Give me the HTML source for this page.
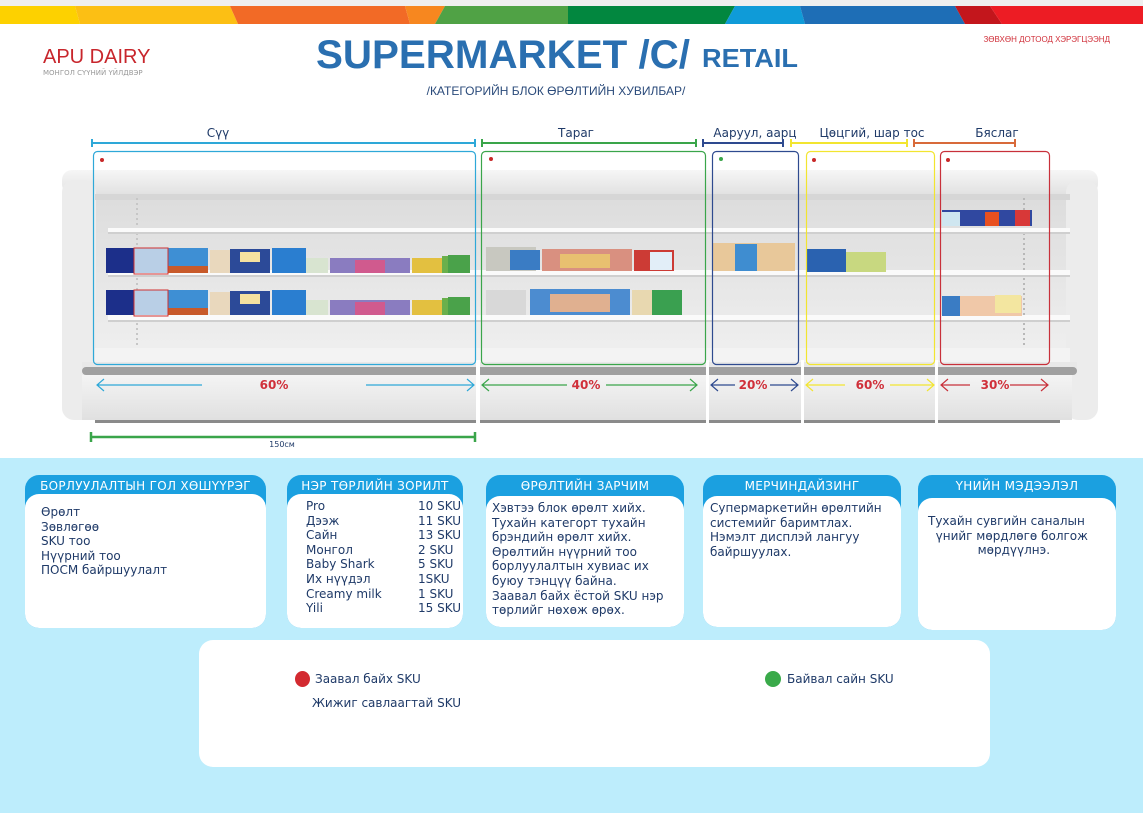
<!DOCTYPE html>
<html><head><meta charset="utf-8">
<style>
*{margin:0;padding:0;box-sizing:border-box}
body{width:1143px;height:813px;overflow:hidden;background:#fff;font-family:"Liberation Sans","DejaVu Sans",sans-serif;position:relative}
.abs{position:absolute}
.bg{position:absolute;left:0;top:458px;width:1143px;height:355px;background:#bdedfc}
.pan{position:absolute;background:#1ba0e0;border-radius:14px}
.pan .hd{color:#fff;font-family:"DejaVu Sans",sans-serif;font-size:12px;text-align:center;height:22px;line-height:22px;letter-spacing:0.3px}
.pan .bd{position:absolute;left:0;right:0;bottom:0;background:#fff;border-radius:14px;color:#1f3a68;font-family:"DejaVu Sans",sans-serif;font-size:12px;line-height:14.6px}
</style></head><body>
<svg class="abs" style="left:0;top:0" width="1143" height="458" viewBox="0 0 1143 458">
<defs>
<linearGradient id="can" x1="0" y1="0" x2="0" y2="1"><stop offset="0" stop-color="#f6f6f6"/><stop offset="1" stop-color="#e2e2e2"/></linearGradient>
<linearGradient id="int" x1="0" y1="0" x2="0" y2="1"><stop offset="0" stop-color="#dcdcdc"/><stop offset="1" stop-color="#f0f0f0"/></linearGradient>
<linearGradient id="base" x1="0" y1="0" x2="0" y2="1"><stop offset="0" stop-color="#f4f4f4"/><stop offset="1" stop-color="#e0e0e0"/></linearGradient>
</defs>
<rect x="0" y="0" width="1143" height="6" fill="#efefef"/>
<polygon points="0,6 75,6 80,24 0,24" fill="#fdd100"/>
<polygon points="75,6 230,6 238,24 80,24" fill="#fcbf14"/>
<polygon points="230,6 405,6 410,24 238,24" fill="#f26a26"/>
<polygon points="405,6 445,6 435,24 410,24" fill="#f7871f"/>
<polygon points="445,6 568,6 568,24 435,24" fill="#50a245"/>
<polygon points="568,6 735,6 725,24 568,24" fill="#02873f"/>
<polygon points="735,6 800,6 805,24 725,24" fill="#0f9bd8"/>
<polygon points="800,6 955,6 965,24 805,24" fill="#1e6eb6"/>
<polygon points="955,6 990,6 1002,24 965,24" fill="#c3161c"/>
<polygon points="990,6 1143,6 1143,24 1002,24" fill="#ed1c24"/>
<text x="43" y="63" font-size="20" fill="#c8262c" font-family="Liberation Sans">APU DAIRY</text>
<text x="43" y="75" font-size="7" fill="#999" font-family="DejaVu Sans">МОНГОЛ СҮҮНИЙ ҮЙЛДВЭР</text>
<text x="316" y="68" font-size="40" font-weight="bold" fill="#2a6fb0" font-family="Liberation Sans" textLength="374" lengthAdjust="spacingAndGlyphs">SUPERMARKET /C/</text>
<text x="702" y="67" font-size="26" font-weight="bold" fill="#2a6fb0" font-family="Liberation Sans" textLength="96" lengthAdjust="spacingAndGlyphs">RETAIL</text>
<text x="556" y="95" font-size="12" fill="#2a4a7a" text-anchor="middle" font-family="Liberation Sans">/КАТЕГОРИЙН БЛОК ӨРӨЛТИЙН ХУВИЛБАР/</text>
<text x="1110" y="42" font-size="8" fill="#d0303a" text-anchor="end" font-family="Liberation Sans">ЗӨВХӨН ДОТООД ХЭРЭГЦЭЭНД</text>
<!-- fridge -->
<rect x="62" y="170" width="1036" height="24" rx="10" fill="url(#can)"/>
<rect x="95" y="194" width="975" height="168" fill="url(#int)"/>
<rect x="62" y="180" width="34" height="240" rx="12" fill="#ececec"/>
<rect x="1066" y="180" width="32" height="240" rx="12" fill="#ececec"/>
<rect x="95" y="194" width="975" height="6" fill="#d6d6d6"/>
<line x1="137" y1="198" x2="137" y2="350" stroke="#c6c6c6" stroke-width="2" stroke-dasharray="2 3"/>
<line x1="1024" y1="198" x2="1024" y2="350" stroke="#b8b8b8" stroke-width="2" stroke-dasharray="2 3"/>
<rect x="108" y="228" width="962" height="4" fill="#fafafa"/><rect x="108" y="232" width="962" height="2" fill="#cfcfcf"/>
<rect x="108" y="270" width="962" height="5" fill="#fafafa"/><rect x="108" y="275" width="962" height="2" fill="#cfcfcf"/>
<rect x="108" y="315" width="962" height="5" fill="#fafafa"/><rect x="108" y="320" width="962" height="2" fill="#cfcfcf"/>
<rect x="95" y="348" width="975" height="14" fill="#f3f3f3"/>
<rect x="82" y="362" width="995" height="6" fill="#e8e8e8"/>
<rect x="82" y="367" width="995" height="8" rx="4" fill="#a0a0a0"/>
<rect x="82" y="375" width="990" height="45" fill="url(#base)"/>
<rect x="95" y="420" width="965" height="3" fill="#8a8a8a"/>
<g>
<rect x="106" y="248" width="28" height="25" fill="#1c2f8a"/>
<rect x="134" y="248" width="34" height="25" fill="#b9cfe6"/>
<rect x="168" y="248" width="40" height="25" fill="#3e8fd4"/><rect x="168" y="266" width="40" height="7" fill="#c85a2a"/>
<rect x="210" y="250" width="20" height="23" fill="#e9d8bd"/>
<rect x="230" y="249" width="40" height="24" fill="#2c4a98"/><rect x="240" y="252" width="20" height="10" fill="#f4e1a0"/>
<rect x="272" y="248" width="34" height="25" fill="#2a7ed0"/>
<rect x="306" y="258" width="22" height="15" fill="#d8e4d0"/>
<rect x="330" y="258" width="80" height="15" fill="#8a7cc0"/><rect x="355" y="260" width="30" height="13" fill="#d05a8e"/>
<rect x="412" y="258" width="30" height="15" fill="#e3c040"/>
<rect x="442" y="256" width="12" height="17" fill="#6ab04c"/>
<rect x="448" y="255" width="22" height="18" fill="#4aa24a"/>
</g>
<g>
<rect x="106" y="290" width="28" height="25" fill="#1c2f8a"/>
<rect x="134" y="290" width="34" height="25" fill="#b9cfe6"/>
<rect x="168" y="290" width="40" height="25" fill="#3e8fd4"/><rect x="168" y="308" width="40" height="7" fill="#c85a2a"/>
<rect x="210" y="292" width="20" height="23" fill="#e9d8bd"/>
<rect x="230" y="291" width="40" height="24" fill="#2c4a98"/><rect x="240" y="294" width="20" height="10" fill="#f4e1a0"/>
<rect x="272" y="290" width="34" height="25" fill="#2a7ed0"/>
<rect x="306" y="300" width="22" height="15" fill="#d8e4d0"/>
<rect x="330" y="300" width="80" height="15" fill="#8a7cc0"/><rect x="355" y="302" width="30" height="13" fill="#d05a8e"/>
<rect x="412" y="300" width="30" height="15" fill="#e3c040"/>
<rect x="442" y="298" width="12" height="17" fill="#6ab04c"/>
<rect x="448" y="297" width="22" height="18" fill="#4aa24a"/>
</g>
<rect x="134" y="248" width="34" height="26" fill="none" stroke="#d03030" stroke-width="1"/>
<rect x="134" y="290" width="34" height="26" fill="none" stroke="#d03030" stroke-width="1"/>
<rect x="486" y="247" width="50" height="24" fill="#c8c8c0"/><rect x="510" y="250" width="30" height="20" fill="#3a7cc4"/>
<rect x="542" y="249" width="90" height="22" fill="#d99080"/><rect x="560" y="254" width="50" height="14" fill="#e8c070"/>
<rect x="634" y="250" width="40" height="21" fill="#cc3b35"/><rect x="650" y="252" width="22" height="18" fill="#e2eef8"/>
<rect x="486" y="290" width="40" height="25" fill="#d8d8d8"/>
<rect x="530" y="289" width="100" height="26" fill="#4c8cd0"/><rect x="550" y="294" width="60" height="18" fill="#e0b090"/>
<rect x="632" y="290" width="50" height="25" fill="#3aa050"/><rect x="632" y="290" width="20" height="25" fill="#e8d8b0"/>
<rect x="713" y="243" width="82" height="28" fill="#e8c89a"/><rect x="735" y="244" width="22" height="27" fill="#3f8dd0"/>
<rect x="806" y="249" width="40" height="23" fill="#2a62b0"/><rect x="846" y="252" width="40" height="20" fill="#c8d880"/>
<rect x="942" y="210" width="90" height="16" fill="#3048a0"/><rect x="942" y="212" width="18" height="14" fill="#cfe6f0"/><rect x="985" y="212" width="14" height="14" fill="#e85020"/><rect x="1015" y="210" width="15" height="16" fill="#d83838"/>
<rect x="942" y="296" width="80" height="20" fill="#f0c8a8"/><rect x="942" y="296" width="18" height="20" fill="#3a7cc4"/><rect x="995" y="295" width="26" height="18" fill="#f3e6a0"/>
<rect x="476" y="360" width="4" height="68" fill="#fff"/>
<rect x="706" y="360" width="3" height="68" fill="#fff"/>
<rect x="801" y="360" width="3" height="68" fill="#fff"/>
<rect x="935" y="360" width="3" height="68" fill="#fff"/>
<rect x="93.5" y="151.5" width="382" height="213" rx="4" fill="none" stroke="#2ea8d8" stroke-width="1.2"/>
<rect x="481.5" y="151.5" width="224" height="213" rx="4" fill="none" stroke="#3aa54a" stroke-width="1.2"/>
<rect x="712.5" y="151.5" width="86" height="213" rx="4" fill="none" stroke="#2e4a8f" stroke-width="1.2"/>
<rect x="806.5" y="151.5" width="128" height="213" rx="4" fill="none" stroke="#f2e530" stroke-width="1.2"/>
<rect x="940.5" y="151.5" width="109" height="213" rx="4" fill="none" stroke="#c8303a" stroke-width="1.2"/>
<circle cx="102" cy="160" r="2" fill="#c82828"/><circle cx="491" cy="159" r="2" fill="#c82828"/><circle cx="721" cy="159" r="2" fill="#3aa54a"/><circle cx="814" cy="160" r="2" fill="#c82828"/><circle cx="948" cy="160" r="2" fill="#c82828"/>
<g font-size="12" fill="#1f3a68" text-anchor="middle" font-family="DejaVu Sans">
<text x="218" y="137">Сүү</text><text x="576" y="137">Тараг</text><text x="755" y="137">Ааруул, аарц</text><text x="872" y="137">Цөцгий, шар тос</text><text x="997" y="137">Бяслаг</text>
</g>
<g stroke-width="2">
<line x1="92" y1="143" x2="475" y2="143" stroke="#2ea8d8"/><line x1="92" y1="139" x2="92" y2="147" stroke="#2ea8d8"/><line x1="475" y1="139" x2="475" y2="147" stroke="#2ea8d8"/>
<line x1="482" y1="143" x2="696" y2="143" stroke="#3aa54a"/><line x1="482" y1="139" x2="482" y2="147" stroke="#3aa54a"/><line x1="696" y1="139" x2="696" y2="147" stroke="#3aa54a"/>
<line x1="703" y1="143" x2="783" y2="143" stroke="#2e4a8f"/><line x1="703" y1="139" x2="703" y2="147" stroke="#2e4a8f"/><line x1="783" y1="139" x2="783" y2="147" stroke="#2e4a8f"/>
<line x1="791" y1="143" x2="907" y2="143" stroke="#f2e530"/><line x1="791" y1="139" x2="791" y2="147" stroke="#f2e530"/><line x1="907" y1="139" x2="907" y2="147" stroke="#f2e530"/>
<line x1="914" y1="143" x2="1015" y2="143" stroke="#d86a3a"/><line x1="914" y1="139" x2="914" y2="147" stroke="#d86a3a"/><line x1="1015" y1="139" x2="1015" y2="147" stroke="#d86a3a"/>
</g>
<g fill="none" stroke-width="1.2">
<path d="M97 385H202M104 379L97 385L104 391" stroke="#2ea8d8"/><path d="M366 385H474M467 379L474 385L467 391" stroke="#2ea8d8"/>
<path d="M482 385H567M489 379L482 385L489 391" stroke="#3aa54a"/><path d="M606 385H697M690 379L697 385L690 391" stroke="#3aa54a"/>
<path d="M711 385H735M718 379L711 385L718 391" stroke="#2e4a8f"/><path d="M770 385H798M791 379L798 385L791 391" stroke="#2e4a8f"/>
<path d="M806 385H845M813 379L806 385L813 391" stroke="#f2e530"/><path d="M890 385H934M927 379L934 385L927 391" stroke="#f2e530"/>
<path d="M941 385H970M948 379L941 385L948 391" stroke="#c8303a"/><path d="M1010 385H1048M1041 379L1048 385L1041 391" stroke="#c8303a"/>
</g>
<g font-size="12" font-weight="bold" fill="#d0303a" text-anchor="middle" font-family="DejaVu Sans">
<text x="274" y="389">60%</text><text x="586" y="389">40%</text><text x="753" y="389">20%</text><text x="870" y="389">60%</text><text x="995" y="389">30%</text>
</g>
<line x1="91" y1="437" x2="475" y2="437" stroke="#3aa54a" stroke-width="2.5"/><line x1="91" y1="432" x2="91" y2="442" stroke="#3aa54a" stroke-width="2.5"/><line x1="475" y1="432" x2="475" y2="442" stroke="#3aa54a" stroke-width="2.5"/>
<text x="282" y="447" font-size="8" fill="#1f3a68" text-anchor="middle" font-family="DejaVu Sans">150см</text>
</svg>
<div class="bg"></div>
<div class="pan" style="left:25px;top:475px;width:241px;height:153px"><div class="hd">БОРЛУУЛАЛТЫН ГОЛ ХӨШҮҮРЭГ</div>
<div class="bd" style="top:19px;padding:11px 0 0 16px">Өрөлт<br>Зөвлөгөө<br>SKU тоо<br>Нүүрний тоо<br>ПОСМ байршуулалт</div></div>
<div class="pan" style="left:287px;top:475px;width:176px;height:153px"><div class="hd">НЭР ТӨРЛИЙН ЗОРИЛТ</div>
<div class="bd" style="top:19px;padding:5px 0 0 19px"><div style="float:left;width:112px">Pro<br>Дээж<br>Сайн<br>Монгол<br>Baby Shark<br>Их нүүдэл<br>Creamy milk<br>Yili</div><div style="float:left">10 SKU<br>11 SKU<br>13 SKU<br>2 SKU<br>5 SKU<br>1SKU<br>1 SKU<br>15 SKU</div></div></div>
<div class="pan" style="left:486px;top:475px;width:198px;height:152px"><div class="hd">ӨРӨЛТИЙН ЗАРЧИМ</div>
<div class="bd" style="top:21px;padding:5px 0 0 6px">Хэвтээ блок өрөлт хийх.<br>Тухайн категорт тухайн<br>брэндийн өрөлт хийх.<br>Өрөлтийн нүүрний тоо<br>борлуулалтын хувиас их<br>буюу тэнцүү байна.<br>Заавал байх ёстой SKU нэр<br>төрлийг нөхөж өрөх.</div></div>
<div class="pan" style="left:703px;top:475px;width:198px;height:152px"><div class="hd">МЕРЧИНДАЙЗИНГ</div>
<div class="bd" style="top:21px;padding:5px 0 0 7px">Супермаркетийн өрөлтийн<br>системийг баримтлах.<br>Нэмэлт дисплэй лангуу<br>байршуулах.</div></div>
<div class="pan" style="left:918px;top:475px;width:198px;height:155px"><div class="hd">ҮНИЙН МЭДЭЭЛЭЛ</div>
<div class="bd" style="top:23px;padding:16px 0 0 10px">Тухайн сувгийн саналын<br>&nbsp;&nbsp;үнийг мөрдлөгө болгож<br>&nbsp;&nbsp;&nbsp;&nbsp;&nbsp;&nbsp;&nbsp;&nbsp;&nbsp;&nbsp;&nbsp;&nbsp;&nbsp;мөрдүүлнэ.</div></div>
<div class="abs" style="left:199px;top:640px;width:791px;height:127px;background:#fff;border-radius:14px;color:#1f3a68;font-size:12px;font-family:'DejaVu Sans',sans-serif">
<div class="abs" style="left:96px;top:31px;width:15px;height:16px;border-radius:50%;background:#d32a30"></div>
<div class="abs" style="left:116px;top:32px">Заавал байх SKU</div>
<div class="abs" style="left:113px;top:56px">Жижиг савлаагтай SKU</div>
<div class="abs" style="left:566px;top:31px;width:16px;height:16px;border-radius:50%;background:#3aaa4a"></div>
<div class="abs" style="left:588px;top:32px">Байвал сайн SKU</div>
</div>
</body></html>
